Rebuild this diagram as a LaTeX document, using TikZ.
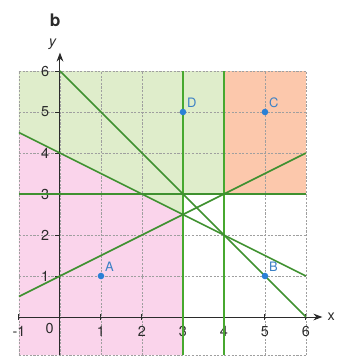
\documentclass[tikz,border=0pt]{standalone}
\usepackage{fontspec}
\setmainfont{TeX Gyre Heros}
\usetikzlibrary{arrows.meta}
\definecolor{regGreen}{HTML}{DFEDCB}
\definecolor{regPink}{HTML}{FAD4EB}
\definecolor{regOrange}{HTML}{FCC8AC}
\definecolor{bndGreen}{HTML}{3F9130}
\definecolor{bndLight}{HTML}{47A82F}
\definecolor{ptBlue}{HTML}{2A80D6}
\definecolor{axInk}{HTML}{2B2B2B}
\tikzset{
  grd/.style={draw=gray!75, line width=0.55pt, dash pattern=on 1.5pt off 1pt},
  ax/.style={draw=axInk, line width=0.7pt},
  axarr/.style={ax, -{Stealth[length=2.2mm]}},
  bnd/.style={draw=bndGreen, line width=1.1pt},
  vbnd/.style={draw=bndLight, line width=1.2pt},
  pt/.style={circle, fill=ptBlue, inner sep=0pt, minimum size=1.6mm},
  ptlbl/.style={font=\small, text=ptBlue!80!gray, anchor=south west, inner sep=1pt},
  tk/.style={font=\normalsize, text=axInk},
}
\begin{document}
\begin{tikzpicture}[x=1cm, y=1cm]
  \useasboundingbox (-1.463,-1.073) rectangle (6.976,7.732);
  % feasible regions
  \fill[regGreen] (-1,6) -- (4,6) -- (4,3) -- (3,3) -- (3,2.5) -- (-1,4.5) -- cycle;
  \fill[regPink] (-1,4.5) -- (3,2.5) -- (3,-0.93) -- (-1,-0.93) -- cycle;
  \fill[regOrange] (4,3) rectangle (6,6);
  % grid
  \foreach \xx in {-1,...,6} \draw[grd] (\xx,-0.93) -- (\xx,6);
  \foreach \yy in {0,...,6} \draw[grd] (-1,\yy) -- (6,\yy);
  \draw[grd] (-1,-0.93) -- (6,-0.93);
  % axes
  \draw[axarr] (-1,0) -- (6.4,0) node[tk, right] (xlbl) {x};
  \draw[axarr] (0,-0.93) -- (0,6.45) node[tk, above left, inner sep=2pt] (ylbl) {\textit{y}};
  \foreach \xx in {-1,1,2,3,4,5,6}
    { \draw[ax] (\xx,-0.07) -- (\xx,0.07);
      \node[tk, anchor=north] (tx\xx) at (\xx,-0.1) {\xx}; }
  \foreach \yy in {1,...,6}
    { \draw[ax] (-0.12,\yy) -- (0,\yy);
      \node[tk, anchor=east] (ty\yy) at (-0.14,\yy) {\yy}; }
  \node[tk] (orig) at (-0.25,-0.27) {0};
  % boundary lines
  \draw[bnd] (-1,3) -- (6,3);
  \draw[vbnd] (3,-0.93) -- (3,6);
  \draw[vbnd] (4,-0.93) -- (4,6);
  \draw[bnd] (0,6) -- (6,0);
  \draw[bnd] (-1,4.5) -- (6,1);
  \draw[bnd] (-1,0.5) -- (6,4);
  % points
  \foreach \nm/\px/\py in {A/1/1, B/5/1, C/5/5, D/3/5}
    { \node[pt] (p\nm) at (\px,\py) {};
      \node[ptlbl] (l\nm) at (p\nm.north east) {\nm}; }
  \node[font=\large\bfseries, text=axInk] (title) at (-0.12,7.24) {b};
\end{tikzpicture}
\end{document}
